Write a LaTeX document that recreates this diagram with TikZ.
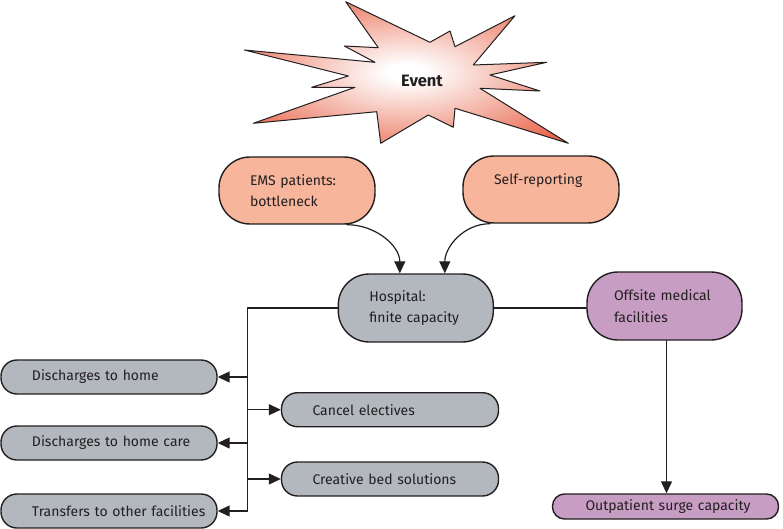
\documentclass[tikz,border=0pt]{standalone}
\usepackage{fontspec}
\setmainfont{Fira Sans}
\usepackage{xcolor}
\usetikzlibrary{arrows.meta}
\definecolor{inkc}{HTML}{231F20}
\definecolor{salmonc}{HTML}{F7B59B}
\definecolor{greyc}{HTML}{B2B8BE}
\definecolor{plumc}{HTML}{C89DC4}
\definecolor{burstc}{HTML}{E8654A}
\pgfdeclareradialshading{burst}{\pgfpoint{0bp}{0bp}}{color(0bp)=(white);
  color(3bp)=(white); color(16bp)=(burstc!45!white); color(32bp)=(burstc);
  color(72bp)=(burstc)}

\begin{document}
\begin{tikzpicture}[x=1pt,y=-1pt,line cap=round,line join=round,
  outline/.style={draw=inkc,line width=1.4pt},
  boxtext/.style={font=\fontsize{14}{21.5}\selectfont,text=inkc,inner xsep=0pt,
    inner ysep=0pt,align=left,execute at begin node={\leftskip=31pt}},
  onebox/.style={outline,boxtext,rounded corners=16pt,minimum height=34pt},
  twobox/.style={outline,boxtext,rounded corners=31pt,minimum height=67pt,text width=156pt},
  link/.style={draw=inkc,line width=1.2pt},
  flow/.style={link,-{Triangle[length=12pt,width=11pt]}}]
\useasboundingbox (0,0) rectangle (783,529);

% The event.
\draw[outline,line width=1pt,shading=burst]
  (345.7,1.7)--(430,42.3)--(450,31)--(455,46.7)--(515,15.7)--(473.3,65)
  --(546.7,62.3)--(490,75)--(540,91)--(480,88.3)--(568.3,143.3)--(455,108.3)
  --(453.3,127.3)--(428.3,115)--(380.7,143.3)--(376.7,111.7)--(253.3,123.3)
  --(355,87.3)--(311.7,87.3)--(348.3,76)--(244.3,50)--(375,62.3)
  --(344.3,46)--(378.3,47.7)--cycle;
\node[font=\fontsize{16.5}{19}\selectfont\bfseries,text=inkc] (event) at (422,81) {Event};

% Arrivals and the hospital.
\node[twobox,fill=salmonc] (ems) at (297,190.5) {EMS patients:\\bottleneck};
\node[twobox,fill=salmonc] (self) at (541,189.5) {Self-reporting\\\mbox{}};
\node[twobox,fill=greyc,minimum height=68pt,text width=155pt] (hosp) at (415.8,308)
  {Hospital:\\finite capacity};
\node[twobox,fill=plumc,minimum height=68pt,text width=155pt,
  execute at begin node={\leftskip=27pt}] (offsite) at (664.5,306)
  {Offsite medical\\facilities};
\draw[flow] ([xshift=50pt]ems.south) to[out=0,in=90] ([xshift=-16pt]hosp.north);
\draw[flow] ([xshift=-51pt]self.south) to[out=180,in=90] ([xshift=29pt]hosp.north);

% Outflow.
\node[onebox,fill=greyc,text width=216pt] (home) at (109,377) {Discharges to home};
\node[onebox,fill=greyc,text width=216pt] (homecare) at (109,443) {Discharges to home care};
\node[onebox,fill=greyc,text width=216pt] (transfer) at (109,511) {Transfers to other facilities};
\node[onebox,fill=greyc,text width=217pt] (cancel) at (390,409.7) {Cancel electives};
\node[onebox,fill=greyc,text width=217pt] (creative) at (390,479) {Creative bed solutions};
\node[onebox,fill=plumc,text width=226pt,minimum height=25pt,rounded corners=12pt,
  execute at begin node={\leftskip=33pt}] (outpat) at (665.5,506.5) {Outpatient surge capacity};

\coordinate (split) at ([xshift=-90pt]hosp.west);
\draw[link] (hosp.west) -- (split) -- (split |- transfer.east);
\foreach \n in {home,homecare,transfer}
  \draw[flow] (split |- \n.east) -- (\n.east);
\foreach \n in {cancel,creative}
  \draw[flow] (split |- \n.west) -- (\n.west);
\draw[link] (hosp.east) -- (hosp.east -| offsite.west);
\draw[flow] ([xshift=2pt]offsite.south) -- ([xshift=2pt]offsite.south |- outpat.north);
\end{tikzpicture}
\end{document}
